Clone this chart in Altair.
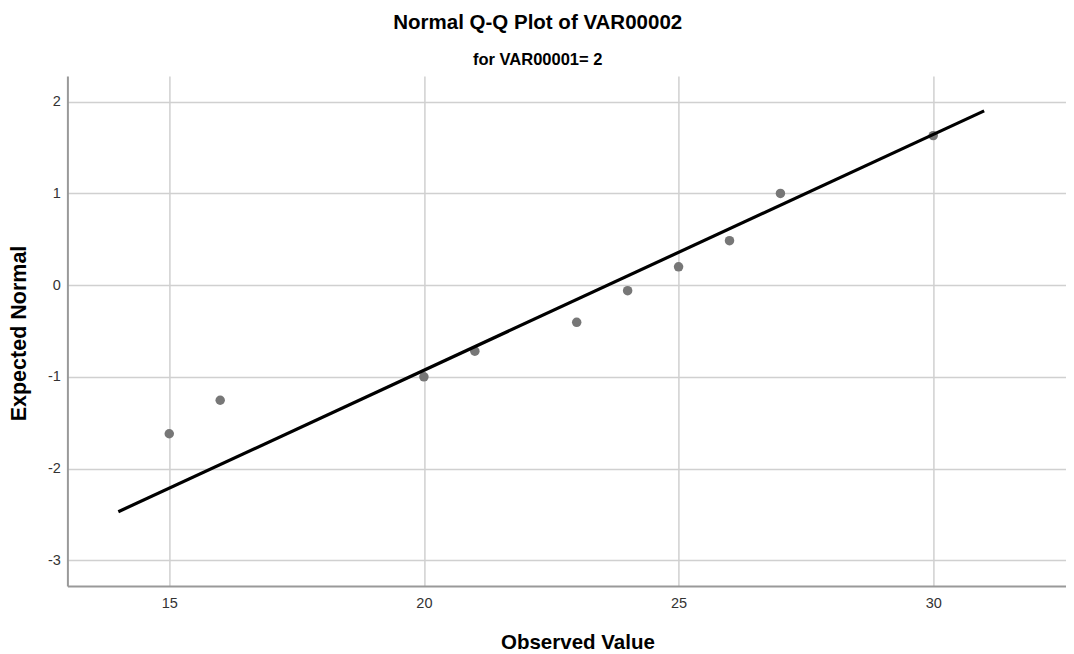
import altair as alt
import pandas as pd

observed = [15, 16, 20, 21, 23, 24, 25, 26, 27, 30]
expected = [-1.62, -1.255, -1.0, -0.72, -0.405, -0.06, 0.20, 0.485, 1.0, 1.63]

# Reference line end points
line_x = [14, 31]
line_y = [-2.47, 1.90]

x_ticks = [15, 20, 25, 30]
y_ticks = [-3, -2, -1, 0, 1, 2]

FONT = "Liberation Sans"

pts = pd.DataFrame({"obs": observed, "exp": expected})
ln = pd.DataFrame({"obs": line_x, "exp": line_y})

xscale = alt.Scale(domain=[13, 32.607], nice=False, zero=False)
yscale = alt.Scale(domain=[-3.28, 2.28], nice=False, zero=False)

xenc = alt.X(
    "obs:Q",
    scale=xscale,
    axis=alt.Axis(
        title="Observed Value",
        values=x_ticks,
        labelExpr="toString(datum.value)",
        grid=True,
        ticks=False,
        labelPadding=10,
        titleX=510,
        titleY=56,
        titleAlign="center",
        titleBaseline="middle",
        titleFontSize=20.5,
    ),
)
yenc = alt.Y(
    "exp:Q",
    scale=yscale,
    axis=alt.Axis(
        title="Expected Normal",
        values=y_ticks,
        labelExpr="toString(datum.value)",
        grid=True,
        ticks=False,
        labelPadding=7,
        titleX=-48,
        titleY=257,
        titleAlign="center",
        titleBaseline="middle",
        titleFontSize=21.5,
    ),
)

points = alt.Chart(pts).mark_circle(size=90, color="#777777", opacity=1).encode(
    x=xenc, y=yenc
)
line = alt.Chart(ln).mark_line(color="#000000", strokeWidth=3.2).encode(
    x=alt.X("obs:Q", scale=xscale), y=alt.Y("exp:Q", scale=yscale)
)

chart = (
    alt.layer(points, line)
    .properties(
        width=998.6,
        height=510,
        autosize=alt.AutoSizeParams(type="none"),
        padding={"left": 59.4, "top": 68, "right": 0, "bottom": 66},
        title=alt.TitleParams(
            text="Normal Q-Q Plot of VAR00002",
            subtitle="for VAR00001= 2",
            anchor="middle",
            frame="group",
            dx=-29,
            offset=8,
            font=FONT,
            fontSize=20.5,
            fontWeight="bold",
            color="#000000",
            subtitleFont=FONT,
            subtitleFontSize=16.5,
            subtitleFontWeight="bold",
            subtitleColor="#000000",
            subtitlePadding=18,
        ),
    )
    .configure_view(stroke=None)
    .configure_axis(
        labelFont=FONT,
        labelFontSize=14.5,
        labelColor="#333333",
        titleFont=FONT,
        titleFontWeight="bold",
        titleColor="#000000",
        gridColor="#d0d0d0",
        gridWidth=1.5,
        domainColor="#999999",
        domainWidth=2,
    )
)

chart.save("out.html", embed_options={"renderer": "svg", "actions": False})
